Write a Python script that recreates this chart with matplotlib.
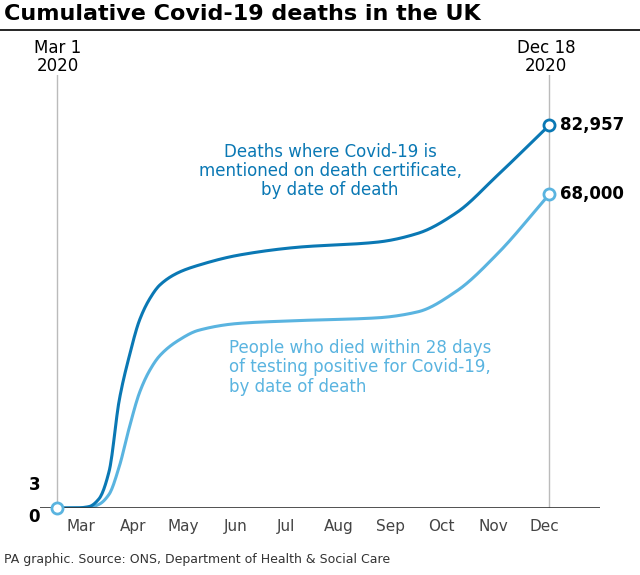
import numpy as np
import matplotlib.pyplot as plt

# days since Mar 1 2020
days = [0, 12, 19, 25, 31, 37, 43, 49, 55, 61, 72, 84, 108, 143, 190, 214, 237, 261, 292]
certificate = [3, 20, 300, 2000, 8000, 23400, 33000, 40700, 45300, 48300, 51000, 52600, 54800, 56500, 57600, 59500, 64000, 72000, 82957]
positive = [3, 10, 100, 800, 3000, 9000, 17500, 25000, 29800, 33000, 36300, 38500, 40000, 40600, 41200, 42500, 47000, 55000, 68000]

month_pos = [14, 45, 75, 106, 136, 167, 198, 228, 259, 289]
month_labels = ["Mar", "Apr", "May", "Jun", "Jul", "Aug", "Sep", "Oct", "Nov", "Dec"]

dark = "#0a78b4"
light = "#5ab4e0"


def pchip(x, y, xs):
    x = np.asarray(x, float); y = np.asarray(y, float)
    h = np.diff(x); d = np.diff(y) / h
    m = np.zeros_like(y)
    for i in range(1, len(x) - 1):
        if d[i - 1] * d[i] > 0:
            w1 = 2 * h[i] + h[i - 1]; w2 = h[i] + 2 * h[i - 1]
            m[i] = (w1 + w2) / (w1 / d[i - 1] + w2 / d[i])
    m[0] = d[0]; m[-1] = d[-1]
    idx = np.clip(np.searchsorted(x, xs) - 1, 0, len(x) - 2)
    t = (xs - x[idx]) / h[idx]
    h00 = 2 * t**3 - 3 * t**2 + 1; h10 = t**3 - 2 * t**2 + t
    h01 = -2 * t**3 + 3 * t**2; h11 = t**3 - t**2
    return h00 * y[idx] + h10 * h[idx] * m[idx] + h01 * y[idx + 1] + h11 * h[idx] * m[idx + 1]


fig = plt.figure(figsize=(6.4, 5.75), dpi=100)
ax = fig.add_axes([0.0625, 0.1165, 0.875, 0.753])
xs = np.linspace(0, 292, 600)
ax.plot(xs, pchip(days, positive, xs), color=light, lw=2.2)
ax.plot(xs, pchip(days, certificate, xs), color=dark, lw=2.2)
ax.plot([days[-1]], [positive[-1]], "o", ms=8, mfc="white", mec=light, mew=2)
ax.plot([days[-1]], [certificate[-1]], "o", ms=8, mfc="white", mec=dark, mew=2)
ax.plot([0], [0], "o", ms=8, mfc="white", mec=light, mew=2, clip_on=False, zorder=5)

ax.set_xlim(-10, 322)
ax.set_ylim(0, 93800)
for s in ax.spines.values():
    s.set_visible(False)
ax.axhline(0, color="#333333", lw=1.2)
ax.axvline(0, color="#bbbbbb", lw=1, zorder=0)
ax.axvline(292, color="#bbbbbb", lw=1, zorder=0)
ax.set_yticks([])
ax.set_xticks(month_pos)
ax.set_xticklabels(month_labels, fontsize=11, color="#444444")
ax.tick_params(axis="x", length=0, pad=8)

ax.text(-10, 3000, "3", fontsize=12, fontweight="bold", ha="right", va="bottom", clip_on=False)
ax.text(-10, 0, "0", fontsize=12, fontweight="bold", ha="right", va="top", clip_on=False)
ax.text(298, certificate[-1], "82,957", fontsize=12, fontweight="bold", va="center")
ax.text(298, positive[-1], "68,000", fontsize=12, fontweight="bold", va="center")
ax.text(162, 73000, "Deaths where Covid-19 is\nmentioned on death certificate,\nby date of death",
        color=dark, fontsize=12, ha="center", va="center", linespacing=1.1)
ax.text(102, 30500, "People who died within 28 days\nof testing positive for Covid-19,\nby date of death",
        color=light, fontsize=12, ha="left", va="center", linespacing=1.1)

fig.text(0.09, 0.87, "Mar 1\n2020", fontsize=12, ha="center", va="bottom", linespacing=1.0)
fig.text(0.853, 0.87, "Dec 18\n2020", fontsize=12, ha="center", va="bottom", linespacing=1.0)
fig.text(0.006, 0.975, "Cumulative Covid-19 deaths in the UK", fontsize=16, fontweight="bold", va="center")
fig.add_artist(plt.Line2D([0, 1], [0.948, 0.948], color="black", lw=1.2))
fig.text(0.006, 0.02, "PA graphic. Source: ONS, Department of Health & Social Care", fontsize=9, color="#333333")

fig.savefig("out.png", dpi=100)
